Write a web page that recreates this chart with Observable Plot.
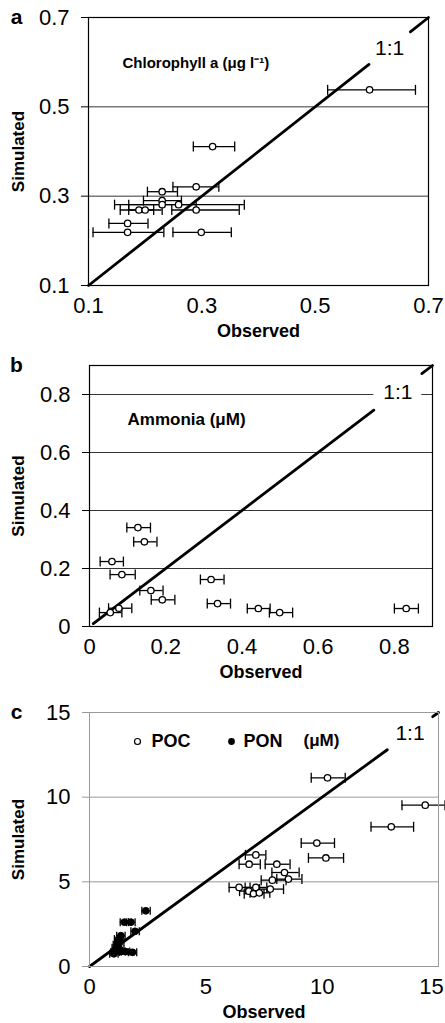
<!DOCTYPE html>
<html>
<head>
<meta charset="utf-8">
<script src="https://cdn.jsdelivr.net/npm/d3@7"></script>
<script src="https://cdn.jsdelivr.net/npm/@observablehq/plot@0.6"></script>
<style>
  html, body { margin: 0; padding: 0; background: white; }
  #chart svg { display: block; }
</style>
</head>
<body>
<div id="chart"></div>
<script>
// ---------- Panel a: Chlorophyll a ----------
const aObs = [0.596, 0.319, 0.290, 0.230, 0.230, 0.230, 0.259, 0.189, 0.200, 0.290, 0.169, 0.169, 0.299];
const aSim = [0.538, 0.411, 0.321, 0.310, 0.290, 0.281, 0.281, 0.269, 0.269, 0.269, 0.239, 0.219, 0.219];
const aLo  = [0.522, 0.285, 0.249, 0.204, 0.197, 0.171, 0.146, 0.156, 0.171, 0.247, 0.136, 0.108, 0.249];
const aHi  = [0.677, 0.358, 0.330, 0.257, 0.264, 0.290, 0.375, 0.215, 0.230, 0.366, 0.205, 0.233, 0.352];
const aTicks = [0.1, 0.3, 0.5, 0.7];
const aTickLabels = ["0.1", "0.3", "0.5", "0.7"];
const aGrid = [0.3, 0.5];
const aOneToOne = [[0.1, 0.595], [0.668, 0.7]];

// ---------- Panel b: Ammonia ----------
const bObs = [0.127, 0.144, 0.059, 0.085, 0.319, 0.161, 0.191, 0.336, 0.443, 0.499, 0.831, 0.077, 0.0545];
const bSim = [0.341, 0.292, 0.224, 0.179, 0.162, 0.124, 0.092, 0.079, 0.062, 0.048, 0.062, 0.063, 0.048];
const bLo  = [0.098, 0.116, 0.028, 0.054, 0.291, 0.132, 0.162, 0.309, 0.414, 0.472, 0.800, 0.050, 0.026];
const bHi  = [0.160, 0.177, 0.089, 0.120, 0.353, 0.193, 0.224, 0.370, 0.474, 0.533, 0.863, 0.111, 0.085];
const bTicks = [0, 0.2, 0.4, 0.6, 0.8];
const bTickLabels = ["0", "0.2", "0.4", "0.6", "0.8"];
const bGrid = [0.2, 0.4, 0.6, 0.8];
const bOneToOne = [[0.01, 0.746], [0.872, 0.9]];

// ---------- Panel c: POC / PON ----------
const pocObs = [10.23, 14.43, 12.97, 9.77, 10.16, 7.15, 6.86, 8.05, 8.38, 8.55, 7.86, 6.43, 7.15, 7.77, 6.85, 7.05, 7.30];
const pocSim = [11.14, 9.53, 8.25, 7.29, 6.41, 6.59, 6.04, 6.04, 5.55, 5.16, 5.10, 4.67, 4.67, 4.57, 4.45, 4.30, 4.35];
const pocLo  = [9.53, 13.43, 12.10, 9.10, 9.41, 6.70, 6.43, 7.55, 7.84, 8.05, 7.38, 6.00, 6.69, 7.31, 6.45, 6.65, 6.90];
const pocHi  = [10.99, 15.28, 13.93, 10.53, 10.92, 7.58, 7.34, 8.62, 9.01, 9.13, 8.45, 6.90, 7.62, 8.34, 7.30, 7.50, 7.75];
const ponObs = [2.42, 1.50, 1.78, 1.96, 1.35, 1.25, 1.30, 1.20, 1.15, 1.30, 1.10, 1.35, 1.55, 1.85, 1.05];
const ponSim = [3.29, 2.62, 2.62, 2.08, 1.82, 1.62, 1.45, 1.28, 1.10, 1.00, 0.85, 0.88, 0.88, 0.84, 0.75];
const ponLo  = [2.25, 1.32, 1.60, 1.78, 1.17, 1.07, 1.12, 1.02, 0.97, 1.12, 0.92, 1.17, 1.37, 1.67, 0.87];
const ponHi  = [2.61, 1.68, 1.96, 2.14, 1.53, 1.43, 1.48, 1.38, 1.33, 1.48, 1.28, 1.53, 1.73, 2.03, 1.23];
const cTicks = [0, 5, 10, 15];
const cTickLabels = ["0", "5", "10", "15"];
const cGrid = [5, 10];
const cOneToOne = [[0, 12.8], [14.75, 15]];

// ---------- helpers ----------
const FONT = "'Liberation Sans', Arial, Helvetica, sans-serif";
const table = (obs, sim, lo, hi) => obs.map((o, i) => ({obs: o, sim: sim[i], lo: lo[i], hi: hi[i]}));
const capSymbol = {
  draw(ctx, size) {
    const h = Math.sqrt(size / Math.PI);
    ctx.moveTo(0, -h);
    ctx.lineTo(0, h);
  }
};
function errorBars(data, cap) {
  return [
    Plot.ruleY(data, {y: "sim", x1: "lo", x2: "hi", stroke: "black", strokeWidth: 1.3}),
    Plot.dot(data, {x: "lo", y: "sim", symbol: capSymbol, r: cap, stroke: "black", strokeWidth: 1.3, fill: "none"}),
    Plot.dot(data, {x: "hi", y: "sim", symbol: capSymbol, r: cap, stroke: "black", strokeWidth: 1.3, fill: "none"})
  ];
}
function oneToOne(segs) {
  const gap = [{x1: segs[0][1], x2: segs[1][0]}];
  return [
    Plot.rect(gap, {x1: "x1", x2: "x2", y1: "x1", y2: "x2", fill: "white"}),
    ...segs.map(s => Plot.line(s, {x: d => d, y: d => d, stroke: "black", strokeWidth: 2.8})),
    Plot.text(gap, {x: d => (d.x1 + d.x2) / 2, y: d => (d.x1 + d.x2) / 2, text: () => "1:1",
      fontSize: 21, fill: "black"})
  ];
}
function axes(ticks, labels, tickColor, lastDx = 0) {
  const fmt = new Map(ticks.map((t, i) => [t, labels[i]]));
  const xOpts = {tickSize: 0, tickPadding: 12, fontSize: 22, label: null,
    tickFormat: d => fmt.get(d), fill: "black"};
  return [
    Plot.axisY(ticks, {tickSize: 7, tickPadding: 12, fontSize: 22, label: null,
      tickFormat: d => fmt.get(d), stroke: tickColor, fill: "black"}),
    Plot.axisX(ticks.slice(0, -1), xOpts),
    Plot.axisX(ticks.slice(-1), {...xOpts, dx: lastDx})
  ];
}
function axisTitles(letter, marginLeft) {
  return [
    Plot.text(["Simulated"], {frameAnchor: "left", dx: 18 - marginLeft, rotate: -90, text: d => d,
      fontSize: 17, fontWeight: "bold", textAnchor: "middle", fill: "black"}),
    Plot.text(["Observed"], {frameAnchor: "bottom", dy: 46, text: d => d,
      fontSize: 18, fontWeight: "bold", fill: "black", lineAnchor: "middle",
      letterSpacing: "0.8px"}),
    Plot.text([letter], {frameAnchor: "top-left", dx: 16 - marginLeft, dy: 0, text: d => d,
      fontSize: 21, fontWeight: "bold", textAnchor: "middle", lineAnchor: "middle", fill: "black"})
  ];
}
const baseStyle = {fontFamily: FONT, background: "white", color: "black", overflow: "visible"};

// ---------- Panel a ----------
const dataA = table(aObs, aSim, aLo, aHi);
const plotA = Plot.plot({
  width: 445, height: 345,
  marginLeft: 88, marginRight: 17, marginTop: 17, marginBottom: 60,
  x: {domain: [0.1, 0.7], axis: null},
  y: {domain: [0.1, 0.7], axis: null},
  style: baseStyle,
  marks: [
    Plot.ruleY(aGrid, {stroke: "black", strokeWidth: 0.8}),
    ...oneToOne(aOneToOne),
    ...errorBars(dataA, 5),
    Plot.dot(dataA, {x: "obs", y: "sim", r: 3.2, fill: "white", stroke: "black", strokeWidth: 1.3}),
    Plot.frame({stroke: "black", strokeWidth: 1.2}),
    ...axes(aTicks, aTickLabels, "black"),
    ...axisTitles("a", 88),
    Plot.text(["Chlorophyll a (μg l⁻¹)"], {frameAnchor: "top-left", dx: 34, dy: 46, text: d => d,
      fontSize: 15, fontWeight: "bold", lineAnchor: "middle", fill: "black"})
  ]
});

// ---------- Panel b ----------
const dataB = table(bObs, bSim, bLo, bHi);
const plotB = Plot.plot({
  width: 445, height: 340,
  marginLeft: 89, marginRight: 13, marginTop: 20, marginBottom: 59,
  x: {domain: [0, 0.9], axis: null},
  y: {domain: [0, 0.9], axis: null},
  style: baseStyle,
  marks: [
    Plot.ruleY(bGrid, {stroke: "black", strokeWidth: 0.8}),
    ...oneToOne(bOneToOne),
    ...errorBars(dataB, 5),
    Plot.dot(dataB, {x: "obs", y: "sim", r: 3.2, fill: "white", stroke: "black", strokeWidth: 1.3}),
    Plot.frame({stroke: "black", strokeWidth: 1.2}),
    ...axes(bTicks, bTickLabels, "black"),
    ...axisTitles("b", 89),
    Plot.text(["Ammonia (μM)"], {frameAnchor: "top-left", dx: 38, dy: 54, text: d => d,
      fontSize: 17, fontWeight: "bold", lineAnchor: "middle", fill: "black"})
  ]
});

// ---------- Panel c ----------
const dataPOC = table(pocObs, pocSim, pocLo, pocHi);
const dataPON = table(ponObs, ponSim, ponLo, ponHi);
const plotC = Plot.plot({
  width: 445, height: 338,
  marginLeft: 89, marginRight: 7, marginTop: 27, marginBottom: 57,
  x: {domain: [0, 15], axis: null},
  y: {domain: [0, 15], axis: null},
  style: baseStyle,
  marks: [
    Plot.ruleY(cGrid, {stroke: "#999", strokeWidth: 1}),
    ...oneToOne(cOneToOne),
    ...errorBars(dataPOC, 5),
    ...errorBars(dataPON, 4),
    Plot.dot(dataPOC, {x: "obs", y: "sim", r: 3.2, fill: "white", stroke: "black", strokeWidth: 1.3}),
    Plot.dot(dataPON, {x: "obs", y: "sim", r: 3.4, fill: "black", stroke: "black", strokeWidth: 1}),
    Plot.frame({stroke: "#999", strokeWidth: 1}),
    ...axes(cTicks, cTickLabels, "#999", -7),
    ...axisTitles("c", 89),
    // legend
    Plot.dot([0], {frameAnchor: "top-left", dx: 48, dy: 29, r: 3, fill: "white", stroke: "black", strokeWidth: 1.2}),
    Plot.text(["POC"], {frameAnchor: "top-left", dx: 62, dy: 29, text: d => d,
      fontSize: 18, fontWeight: "bold", lineAnchor: "middle", fill: "black"}),
    Plot.dot([0], {frameAnchor: "top-left", dx: 142, dy: 29, r: 3.4, fill: "black"}),
    Plot.text(["PON"], {frameAnchor: "top-left", dx: 154, dy: 29, text: d => d,
      fontSize: 18, fontWeight: "bold", lineAnchor: "middle", fill: "black"}),
    Plot.text(["(μM)"], {frameAnchor: "top-left", dx: 214, dy: 28, text: d => d,
      fontSize: 17, fontWeight: "bold", lineAnchor: "middle", fill: "black"})
  ]
});

const chart = document.getElementById("chart");
chart.append(plotA, plotB, plotC);
</script>
</body>
</html>
